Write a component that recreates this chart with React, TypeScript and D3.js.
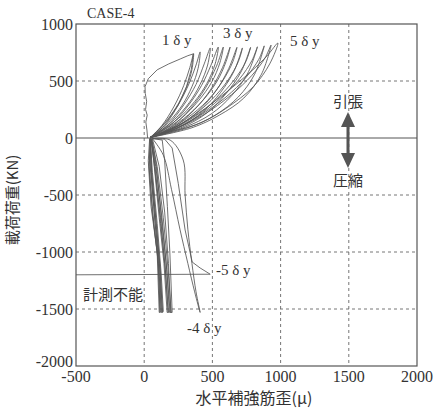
import React from 'react';
import * as d3 from 'd3';

// axis ticks
const xTicks = [-500, 0, 500, 1000, 1500, 2000];
const yTicks = [1000, 500, 0, -500, -1000, -1500, -2000];

// first loading (tension side), strain vs load
const virginCurve = [
  [25, 0], [20, 70], [12, 140], [22, 200], [10, 250], [18, 320], [8, 390], [6, 450],
  [30, 520], [95, 598], [180, 650], [264, 693], [320, 722], [360, 738],
  [345, 600], [310, 450], [250, 290], [170, 150], [90, 50], [45, 5],
];

// tension loops, 1δy .. 5δy
const tensionLoops = [
  [[45, 5], [130, 110], [220, 280], [290, 460], [335, 620], [362, 740], [350, 600], [315, 460], [255, 310], [170, 160], [90, 55], [45, 5]],
  [[45, 5], [150, 110], [250, 290], [330, 480], [380, 640], [410, 755], [395, 610], [350, 450], [280, 290], [180, 140], [90, 45], [45, 5]],
  [[45, 5], [170, 110], [290, 290], [380, 470], [440, 650], [484, 790], [465, 640], [410, 470], [330, 310], [220, 160], [110, 55], [45, 5]],
  [[45, 5], [190, 110], [320, 280], [420, 460], [490, 640], [543, 798], [520, 650], [460, 480], [370, 320], [250, 170], [120, 60], [45, 5]],
  [[45, 5], [200, 100], [340, 260], [450, 440], [530, 630], [580, 798], [555, 660], [495, 490], [400, 330], [270, 170], [130, 60], [45, 5]],
  [[45, 5], [220, 100], [370, 250], [490, 430], [575, 620], [630, 798], [600, 670], [535, 500], [430, 330], [290, 170], [140, 55], [45, 5]],
  [[45, 5], [240, 100], [400, 240], [530, 420], [620, 610], [680, 795], [650, 670], [575, 500], [465, 330], [310, 170], [150, 55], [45, 5]],
  [[45, 5], [260, 95], [430, 230], [560, 400], [660, 590], [720, 790], [690, 670], [610, 500], [490, 330], [330, 170], [160, 55], [45, 5]],
  [[45, 5], [280, 95], [460, 220], [600, 390], [710, 580], [780, 795], [745, 670], [660, 510], [530, 340], [360, 180], [170, 60], [45, 5]],
  [[45, 5], [300, 95], [490, 210], [640, 370], [760, 570], [830, 800], [790, 680], [700, 520], [560, 350], [380, 180], [180, 60], [45, 5]],
  [[45, 5], [320, 90], [520, 200], [690, 360], [810, 560], [880, 808], [840, 690], [745, 530], [600, 360], [400, 190], [190, 60], [45, 5]],
  [[45, 5], [350, 90], [550, 200], [730, 350], [860, 560], [930, 815], [885, 700], [790, 550], [640, 380], [430, 200], [200, 65], [45, 5]],
  [[45, 5], [150, 40], [410, 131], [600, 260], [800, 450], [920, 650], [980, 833], [900, 720], [780, 580], [600, 400], [400, 220], [200, 80], [45, 5]],
];

// compression loops
const compressionLoops = [
  [[40, -5], [30, -200], [50, -600], [95, -1000], [110, -1530], [115, -1530], [105, -1100], [70, -600], [40, -200], [45, -5]],
  [[45, -5], [35, -250], [60, -650], [100, -1050], [118, -1530], [125, -1520], [112, -1100], [80, -650], [50, -250], [45, -5]],
  [[45, -5], [40, -300], [70, -750], [108, -1150], [125, -1530], [132, -1530], [118, -1150], [85, -700], [55, -300], [45, -5]],
  [[45, -5], [50, -300], [80, -750], [115, -1150], [135, -1530], [140, -1520], [125, -1200], [95, -750], [60, -300], [45, -5]],
  [[50, -5], [70, -200], [110, -700], [145, -1100], [168, -1530], [175, -1530], [155, -1150], [120, -700], [75, -250], [50, -5]],
  [[50, -5], [80, -250], [120, -750], [155, -1150], [178, -1530], [185, -1530], [165, -1150], [130, -700], [85, -250], [50, -5]],
  [[55, -5], [90, -250], [130, -750], [165, -1150], [190, -1530], [198, -1530], [175, -1150], [140, -700], [95, -250], [55, -5]],
  [[60, -5], [132, -18], [150, -200], [170, -600], [188, -1000], [205, -1530], [195, -1530], [178, -1100], [150, -650], [110, -250], [60, -5]],
];

// -4δy cycle
const minus4Loop = [
  [60, -5], [190, -18], [286, -193], [300, -500], [320, -800], [350, -1100], [380, -1350], [410, -1530],
  [370, -1350], [320, -1100], [262, -800], [200, -450], [140, -150], [60, -5],
];

// -5δy cycle, gauge lost at the tip (line drops back to the left edge)
const minus5Loop = [
  [60, -5], [150, -10], [205, -88], [250, -400], [300, -807], [352, -1088], [410, -1140], [484, -1195], [-500, -1200],
];

const W = 438;
const H = 410;
const num = 'Liberation Serif';
const jp = 'Noto Sans CJK JP';
const ink = '#333';

export default function App() {
  const x = d3.scaleLinear().domain([-500, 2000]).range([76, 417]);
  const y = d3.scaleLinear().domain([-2000, 1000]).range([366, 24]);

  const line = d3
    .line<number[]>()
    .x((d) => x(d[0]))
    .y((d) => y(d[1]))
    .curve(d3.curveCatmullRom.alpha(0.5));
  const straight = d3
    .line<number[]>()
    .x((d) => x(d[0]))
    .y((d) => y(d[1]));

  const [x0, x1] = x.range();
  const [y0, y1] = y.range();

  return (
    <svg width={W} height={H} style={{ position: 'absolute', left: 0, top: 0, background: '#fff' }}>
      {/* grid */}
      {xTicks.slice(1, -1).map((t) => (
        <line key={'gx' + t} x1={x(t)} x2={x(t)} y1={y1} y2={y0} stroke="#666" strokeWidth={0.9} strokeDasharray="3,3" />
      ))}
      {yTicks.slice(1, -1).filter((t) => t !== 0).map((t) => (
        <line key={'gy' + t} x1={x0} x2={x1} y1={y(t)} y2={y(t)} stroke="#666" strokeWidth={0.9} strokeDasharray="3,3" />
      ))}
      <line x1={x0} x2={x1} y1={y(0)} y2={y(0)} stroke="#555" strokeWidth={1} />

      {/* curves */}
      <g fill="none" stroke="#555" strokeWidth={0.85}>
        <path d={straight(virginCurve) || ''} />
        {tensionLoops.map((l, i) => (
          <path key={'t' + i} d={line(l) || ''} />
        ))}
        {compressionLoops.map((l, i) => (
          <path key={'c' + i} d={straight(l) || ''} />
        ))}
        <path d={line(minus4Loop) || ''} />
        <path d={straight(minus5Loop) || ''} />
      </g>

      {/* frame */}
      <rect x={x0} y={y1} width={x1 - x0} height={y0 - y1} fill="none" stroke="#555" strokeWidth={1.2} />

      {/* tick labels */}
      <g style={{ fontFamily: num }} fontSize={16} fill={ink}>
        {yTicks.map((t) => (
          <text key={'ty' + t} x={73} y={y(t)} dy={t === -2000 ? '0.05em' : '0.35em'} textAnchor="end">
            {t}
          </text>
        ))}
        {xTicks.map((t) => (
          <text key={'tx' + t} x={x(t)} y={382} textAnchor="middle">
            {t}
          </text>
        ))}
      </g>

      <text x={87} y={18} style={{ fontFamily: num }} fontSize={14} fill={ink}>CASE-4</text>

      {/* annotations */}
      <g style={{ fontFamily: num }} fontSize={15} fill={ink}>
        <text x={162} y={45}>1 δ y</text>
        <text x={223} y={38}>3 δ y</text>
        <text x={290} y={46}>5 δ y</text>
        <text x={216} y={275}>-5 δ y</text>
        <text x={187} y={333}>-4 δ y</text>
      </g>
      <text x={83} y={300} style={{ fontFamily: jp }} fontSize={15} fill={ink}>計測不能</text>
      <text x={348} y={107} style={{ fontFamily: jp }} fontSize={15} fill={ink} textAnchor="middle">引張</text>
      <text x={348} y={186} style={{ fontFamily: jp }} fontSize={15} fill={ink} textAnchor="middle">圧縮</text>
      <g fill="#555">
        <rect x={346.5} y={123} width={3} height={34} />
        <polygon points="348,112 341,127 355,127" />
        <polygon points="348,168 341,153 355,153" />
      </g>

      {/* axis titles */}
      <text x={254} y={404} style={{ fontFamily: jp }} fontSize={16} fill={ink} textAnchor="middle">水平補強筋歪(μ)</text>
      <text
        transform="translate(18,200) rotate(-90)"
        style={{ fontFamily: jp }}
        fontSize={15}
        fill={ink}
        textAnchor="middle"
      >
        載荷荷重(KN)
      </text>
    </svg>
  );
}
